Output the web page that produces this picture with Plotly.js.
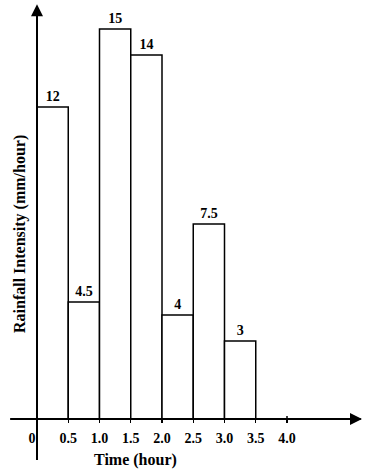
<!DOCTYPE html>
<html>
<head>
<meta charset="utf-8">
<script src="https://cdn.plot.ly/plotly-3.0.1.min.js"></script>
<style>html,body{margin:0;padding:0;background:#fff;}#chart{width:376px;height:475px;}</style>
</head>
<body>
<div id="chart"></div>
<script>
// Data
const binStarts = [0, 0.5, 1.0, 1.5, 2.0, 2.5, 3.0];
const binWidth = 0.5;
const intensity = [12, 4.5, 15, 14, 4, 7.5, 3];
const valueLabels = ["12", "4.5", "15", "14", "4", "7.5", "3"];
const tickValues = [0, 0.5, 1.0, 1.5, 2.0, 2.5, 3.0, 3.5, 4.0];
const tickLabels = ["0\u2002\u2009", "0.5", "1.0", "1.5", "2.0", "2.5", "3.0", "3.5", "4.0"];
const xTitle = "Time (hour)";
const yTitle = "Rainfall Intensity (mm/hour)";

const serif = "Liberation Serif, Times New Roman, serif";
const centers = binStarts.map(s => s + binWidth / 2);

const trace = {
  type: "bar",
  x: centers,
  y: intensity,
  width: binStarts.map(() => binWidth),
  marker: { color: "#ffffff", line: { color: "#000000", width: 1.5 } },
  text: valueLabels,
  textposition: "outside",
  textfont: { family: serif, size: 14, color: "#000", weight: "bold" },
  cliponaxis: false,
  hoverinfo: "skip"
};

const layout = {
  width: 376, height: 475,
  margin: { l: 0, r: 0, t: 0, b: 0 },
  paper_bgcolor: "#fff", plot_bgcolor: "#fff",
  showlegend: false,
  bargap: 0,
  xaxis: {
    range: [-0.592, 5.424],
    anchor: "free", position: 56 / 475,
    showgrid: false, zeroline: false, showline: false,
    tickvals: tickValues, ticktext: tickLabels,
    ticks: "outside", ticklen: 3, tickwidth: 1.2, tickcolor: "#000",
    ticklabelstandoff: 3,
    tickfont: { family: serif, size: 14, color: "#000", weight: "bold" },
    fixedrange: true
  },
  yaxis: {
    range: [-2.1538, 16.1154],
    showgrid: false, zeroline: false, showline: false,
    showticklabels: false, ticks: "",
    fixedrange: true
  },
  shapes: [
    { type: "line", xref: "x", yref: "y", x0: -0.43, x1: 5.18, y0: 0, y1: 0,
      line: { color: "#000", width: 2 } },
    { type: "line", xref: "x", yref: "y", x0: 0, x1: 0, y0: -1.58, y1: 15.8,
      line: { color: "#000", width: 2 } },
    { type: "line", xref: "x", yref: "y", x0: 4.0, x1: 4.0, y0: -0.12, y1: 0.12,
      line: { color: "#000", width: 1.5 } }
  ],
  annotations: [
    { x: 5.2, y: 0, ax: 5.0, ay: 0, xref: "x", yref: "y", axref: "x", ayref: "y",
      text: "", showarrow: true, arrowhead: 2, arrowsize: 1.2, arrowwidth: 2, arrowcolor: "#000" },
    { x: 0, y: 15.95, ax: 0, ay: 15.0, xref: "x", yref: "y", axref: "x", ayref: "y",
      text: "", showarrow: true, arrowhead: 2, arrowsize: 1.2, arrowwidth: 2, arrowcolor: "#000" },
    { x: 135 / 376, y: 1 - 460 / 475, xref: "paper", yref: "paper",
      text: xTitle, showarrow: false, xanchor: "center", yanchor: "middle",
      font: { family: serif, size: 16, color: "#000", weight: "bold" } },
    { x: 20 / 376, y: 1 - 234 / 475, xref: "paper", yref: "paper",
      text: yTitle, showarrow: false, textangle: -90, xanchor: "center", yanchor: "middle",
      font: { family: serif, size: 16, color: "#000", weight: "bold" } }
  ]
};

Plotly.newPlot("chart", [trace], layout, { displayModeBar: false, staticPlot: true });
</script>
</body>
</html>
